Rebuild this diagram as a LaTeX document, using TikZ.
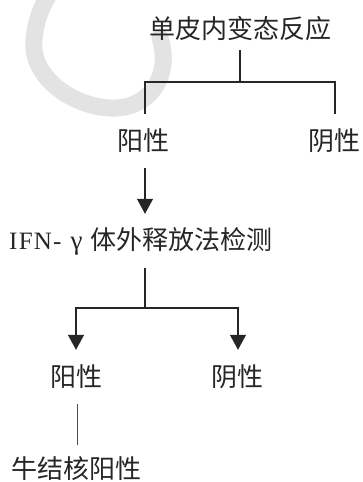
\documentclass[tikz,border=0pt]{standalone}
\usepackage{fontspec}
\setmainfont{Liberation Serif}
\newfontfamily\latinf[LetterSpace=5]{Liberation Serif}
\newfontfamily\cjk{Noto Sans CJK SC}
\usetikzlibrary{arrows.meta}
\tikzset{
  lbl/.style={inner sep=0pt, text=black!85, font=\cjk\fontsize{26}{30}\selectfont},
  link/.style={line width=1.2pt, draw=black!85},
  arr/.style={link, -{Triangle[width=16pt,length=15pt]}},
  thinlink/.style={line width=0.7pt, draw=black!70},
  wmark/.style={line width=17pt, draw=gray!22, line cap=round}
}
\begin{document}
\begin{tikzpicture}[x=1pt,y=-1pt]
\useasboundingbox (0,0) rectangle (362,482);
\fill[white] (0,0) rectangle (362,482);
\begin{scope}
\clip (0,0) rectangle (362,482);
\draw[wmark] (160,38) .. controls (172,75) and (150,110) .. (110,108)
  .. controls (70,106) and (30,75) .. (34,40)
  .. controls (36,15) and (45,0) .. (55,-14);
\end{scope}
\node[lbl, minimum height=42pt] (top) at (240,29) {单皮内变态反应};
\node[lbl, minimum height=54pt] (pos1) at (143,141) {阳性};
\node[lbl, minimum height=54pt] (neg1) at (334,141) {阴性};
\node[lbl, minimum height=54pt, anchor=west] (ifn) at (9,241)
  {{\latinf\fontsize{25}{30}\selectfont IFN-}\hspace{9pt}{\rmfamily\fontsize{27}{30}\selectfont γ}\hspace{8pt}体外释放法检测};
\node[lbl, minimum height=54pt] (pos2) at (76,377) {阳性};
\node[lbl, minimum height=54pt] (neg2) at (237,377) {阴性};
\node[lbl, minimum height=48pt] (bov) at (76,469) {牛结核阳性};
\coordinate (j1) at (240,82);
\coordinate (j2) at (145,308);
\draw[link] (top.south) -- (j1);
\draw[link] ([xshift=2pt]pos1.north) |- (j1) -| ([xshift=1pt]neg1.north);
\draw[arr] ([xshift=2pt]pos1.south) -- ([xshift=2pt]pos1.south |- ifn.north);
\draw[link] (j2 |- ifn.south) -- (j2);
\draw[arr] (j2) -| (pos2.north);
\draw[arr] (j2) -| ([xshift=1pt]neg2.north);
\draw[thinlink] ([xshift=1pt]pos2.south) -- ([xshift=1pt]bov.north);
\end{tikzpicture}
\end{document}
